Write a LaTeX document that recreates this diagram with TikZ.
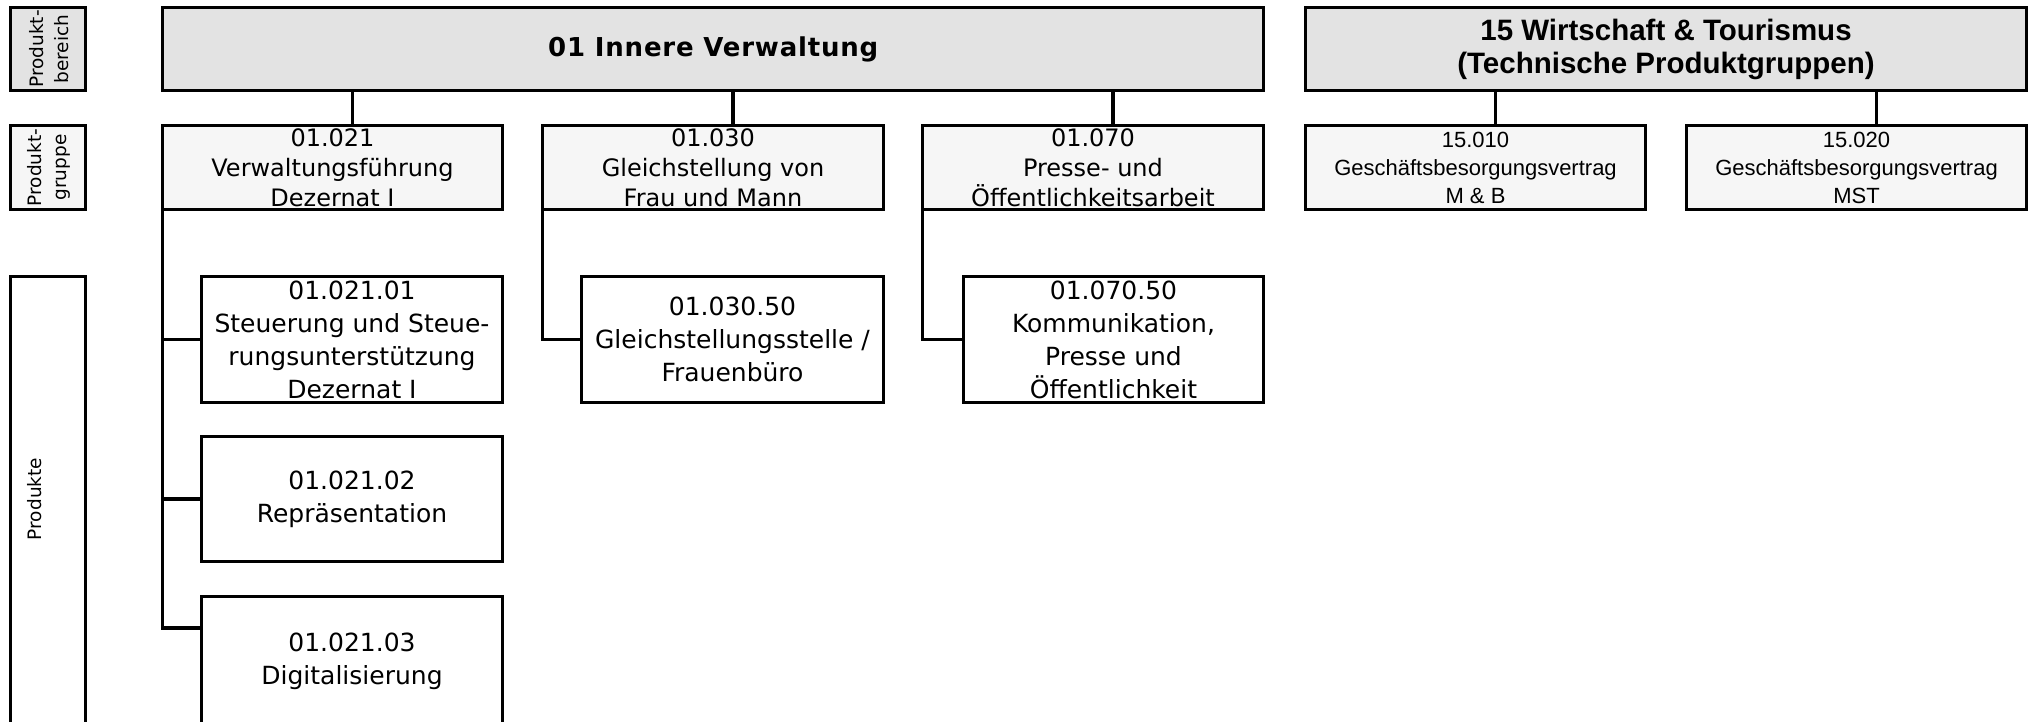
\documentclass[tikz,border=0pt]{standalone}
\usepackage{graphicx}
\usepackage{fontspec}
\setmainfont{DejaVu Sans}
\newfontfamily\arialf{Liberation Sans}
\definecolor{mainfill}{HTML}{E3E3E3}
\definecolor{grpfill}{HTML}{F6F6F6}
\tikzset{
  base/.style={draw=black, line width=3.2pt, inner sep=0pt, outer sep=0pt, align=center, text=black},
  hauptbox/.style={base, fill=mainfill},
  grpbox/.style={base, fill=grpfill, font=\fontsize{24}{30}\selectfont},
  grpboxb/.style={base, fill=grpfill, font=\arialf\fontsize{22}{28}\selectfont},
  prodbox/.style={base, fill=white, font=\fontsize{25}{33}\selectfont},
  labbox/.style={base},
  labtext/.style={rotate=90, inner sep=0pt, align=center, text=black, font=\fontsize{18.5}{25}\selectfont},
  conn/.style={draw=black, line width=3.2pt},
}
\newcommand\bx[7]{\node[#2, minimum width={(#5)-(#3)}, minimum height={(#6)-(#4)}] (#1) at ({((#3)+(#5))/2},{((#4)+(#6))/2}) {#7};}
\begin{document}
\begin{tikzpicture}[x=1pt, y=-1pt]
\useasboundingbox (0,0) rectangle (2035,722);
\clip (0,0) rectangle (2035,722);
% row labels
\bx{lab1}{labbox, fill=mainfill}{10.7}{7.7}{85.3}{90.3}{}
\bx{lab2}{labbox, fill=grpfill}{10.7}{125.7}{85.3}{209.3}{}
\bx{lab3}{labbox, fill=white}{10.7}{276.7}{85.3}{730}{}
\node[labtext] (t1) at (49,49) {Produkt-\\bereich};
\node[labtext] (t2) at (49,167.5) {Produkt-\\gruppe};
\node[labtext] (t3) at (35,499) {Produkte};
% Produktbereiche
\bx{m01}{hauptbox, font=\bfseries\fontsize{26}{32}\selectfont\addfontfeature{LetterSpace=3}}{162.7}{7.7}{1263.7}{90.3}{01 Innere Verwaltung}
\bx{m15}{hauptbox, font=\arialf\bfseries\fontsize{29.5}{33}\selectfont}{1305.7}{7.7}{2026.3}{90.3}{15 Wirtschaft \& Tourismus\\(Technische Produktgruppen)}
% Produktgruppen
\bx{g021}{grpbox}{162.7}{125.7}{502.3}{209.3}{01.021\\Verwaltungsführung\\Dezernat I}
\bx{g030}{grpbox}{542.7}{125.7}{883.3}{209.3}{01.030\\Gleichstellung von\\Frau und Mann}
\bx{g070}{grpbox}{922.7}{125.7}{1263.3}{209.3}{01.070\\Presse- und\\Öffentlichkeitsarbeit}
\bx{g1510}{grpboxb}{1305.7}{125.7}{1645.3}{209.3}{15.010\\Geschäftsbesorgungsvertrag\\M \& B}
\bx{g1520}{grpboxb}{1686.7}{125.7}{2026.3}{209.3}{15.020\\Geschäftsbesorgungsvertrag\\MST}
% Produkte
\bx{p0211}{prodbox}{201.7}{276.7}{502.3}{402.3}{01.021.01\\Steuerung und Steue-\\rungsunterstützung\\Dezernat I}
\bx{p0212}{prodbox}{201.7}{436.7}{502.3}{561.3}{01.021.02\\Repräsentation}
\bx{p0213}{prodbox}{201.7}{596.7}{502.3}{726}{01.021.03\\Digitalisierung}
\bx{p03050}{prodbox}{581.7}{276.7}{883.3}{402.3}{01.030.50\\Gleichstellungsstelle /\\Frauenbüro}
\bx{p07050}{prodbox}{963.7}{276.7}{1263.3}{402.3}{01.070.50\\Kommunikation,\\Presse und\\Öffentlichkeit}
% connectors
\foreach \g/\m in {g021/m01, g030/m01, g070/m01, g1510/m15, g1520/m15}
  \draw[conn] ([xshift=20pt]\g.north) -- ([xshift=20pt]\g.north |- \m.south);
\draw[conn] (g021.south west) |- ([yshift=33.4pt]p0213.west);
\draw[conn] (g021.south west |- p0211.west) -- (p0211.west);
\draw[conn] (g021.south west |- p0212.west) -- (p0212.west);
\draw[conn] (g030.south west) |- (p03050.west);
\draw[conn] (g070.south west) |- (p07050.west);
\end{tikzpicture}
\end{document}
